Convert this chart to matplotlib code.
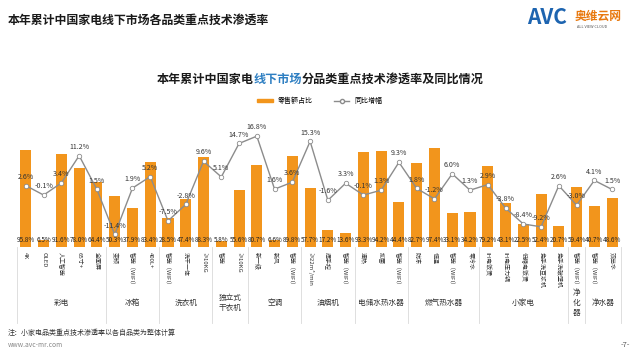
import matplotlib
matplotlib.use("Agg")
import matplotlib.pyplot as plt
from matplotlib.lines import Line2D
from matplotlib.patches import Patch
import matplotlib.transforms as mtransforms

plt.rcParams['font.family'] = ['Noto Sans CJK SC', 'DejaVu Sans']

# groups and their technologies
groups = ['彩电', '冰箱', '洗衣机', '独立式\n干衣机', '空调', '油烟机',
          '电储水热水器', '燃气热水器', '小家电', '净\n化\n器', '净水器']
group_sizes = [5, 3, 3, 2, 3, 3, 3, 4, 5, 1, 2]
techs = ['4K', 'OLED', '人工智能', '65寸+', '全面屏',
         '变频', '智能（WIFI）', '400L+',
         '智能（WIFI）', '洗干一体', '≥10KG',
         '智能', '≥10KG',
         '新一级', '新风', '智能（WIFI）',
         '≥22m³/min', '挥手控', '智能（WIFI）',
         '速热', '抑菌', '智能（WIFI）',
         '防冻', '恒温', '智能（WIFI）', '零冷水',
         'IH电饭煲', 'IH电压力锅', '低糖电饭煲', '免手洗豆浆机', '免手洗破壁机',
         '智能（WIFI）',
         '智能（WIFI）', '双出水']
share = [95.8, 6.5, 91.6, 78.0, 64.4,
         50.3, 37.9, 83.4,
         28.5, 47.4, 88.3,
         5.8, 55.6,
         80.7, 6.6, 89.8,
         57.7, 17.2, 13.6,
         93.3, 94.2, 44.4,
         82.7, 97.4, 33.1, 34.2,
         79.2, 43.1, 22.5, 52.4, 20.7,
         59.4,
         40.7, 48.6]
growth = [2.6, -0.1, 3.4, 11.2, 1.5,
          -11.4, 1.9, 5.2,
          -7.5, -2.8, 9.6,
          5.1, 14.7,
          16.8, 1.6, 3.6,
          15.3, -1.6, 3.3,
          -0.1, 1.3, 9.3,
          1.8, -1.2, 6.0, 1.3,
          2.9, -3.8, -8.4, -9.2, 2.6,
          -3.0,
          4.1, 1.5]

orange = '#f2951c'
grey_line = '#8c8c8c'

fig = plt.figure(figsize=(6.4, 3.6), dpi=100)
W, H = 640, 360

# page title and logo
fig.text(8 / W, 1 - 20 / H, '本年累计中国家电线下市场各品类重点技术渗透率',
         fontsize=8.6, fontweight='bold', va='center', color='#1a1a1a')
fig.text(527 / W, 1 - 18 / H, 'AVC', fontsize=15, fontweight='bold', style='italic',
         color='#1d64b0', va='center')
fig.text(575 / W, 1 - 16 / H, '奥维云网', fontsize=8.5, fontweight='bold',
         color='#e8780e', va='center')
fig.text(577 / W, 1 - 27 / H, 'ALL VIEW CLOUD', fontsize=2.8, color='#555555', va='center')

# chart title with the blue part
parts = [('本年累计中国家电', '#1a1a1a'), ('线下市场', '#2e7fc2'),
         ('分品类重点技术渗透率及同比情况', '#1a1a1a')]
renderer = fig.canvas.get_renderer()
widths = []
for s, c in parts:
    t = fig.text(0, 0, s, fontsize=8.7, fontweight='bold')
    widths.append(t.get_window_extent(renderer).width)
    t.remove()
x0 = (W - sum(widths)) / 2
for (s, c), w in zip(parts, widths):
    fig.text(x0 / W, 1 - 79 / H, s, fontsize=8.7, fontweight='bold', color=c, va='center')
    x0 += w

# main axes
ax = fig.add_axes([17 / W, 1 - 247 / H, 604 / W, 122 / H])
x = list(range(len(share)))
ax.bar(x, share, width=0.62, color=orange, zorder=2)
ax.set_ylim(0, 120)
ax.set_xlim(-0.5, len(share) - 0.5)
for s in ax.spines.values():
    s.set_visible(False)
ax.set_xticks([])
ax.set_yticks([])

for xi, v in zip(x, share):
    ax.text(xi, 6.5, f'{v:.1f}%', fontsize=4.6, ha='center', va='center', color='#222222', zorder=4)

ax2 = ax.twinx()
ax2.set_ylim(-15, 20)
for s in ax2.spines.values():
    s.set_visible(False)
ax2.set_yticks([])
ax2.plot(x, growth, color=grey_line, lw=1.0, marker='o', ms=3.2,
         mfc='white', mec=grey_line, mew=0.6, zorder=3)
for xi, v in zip(x, growth):
    ax2.annotate(f'{v:.1f}%', (xi, v), xytext=(0, 3.5), textcoords='offset points',
                 ha='center', va='bottom', fontsize=5.1, color='#333333')

# category labels, group labels and separators
trans = mtransforms.blended_transform_factory(ax.transData, ax.transAxes)
for xi, name in zip(x, techs):
    ax.text(xi, -0.04, name, rotation=-90, fontsize=4.3, ha='center', va='top',
            color='#333333', transform=trans)

bounds = [-0.5]
for n in group_sizes:
    bounds.append(bounds[-1] + n)
for b in bounds:
    ax.plot([b, b], [0, -0.62], color='#d9d9d9', lw=0.6, transform=trans, clip_on=False)
for g, a, b in zip(groups, bounds[:-1], bounds[1:]):
    ax.text((a + b) / 2, -0.46, g, fontsize=5.5, ha='center', va='center',
            color='#333333', transform=trans, linespacing=1.3)

# legend
handles = [Patch(color=orange, label='零售额占比'),
           Line2D([0], [0], color=grey_line, lw=1, marker='o', ms=3, mfc='white',
                  mec=grey_line, label='同比增幅')]
fig.legend(handles=handles, loc='center', bbox_to_anchor=(0.5, 1 - 101 / H), ncol=2,
           frameon=False, fontsize=5, handlelength=2.2, handleheight=0.4, columnspacing=3)

# footer
fig.text(8 / W, 1 - 333 / H, '注：小家电品类重点技术渗透率以各自品类为整体计算',
         fontsize=5, color='#333333', va='center')
fig.text(8 / W, 1 - 345 / H, 'www.avc-mr.com', fontsize=4.8, color='#888888', va='center')
fig.text(625 / W, 1 - 345 / H, '-7-', fontsize=5.5, color='#555555', va='center', ha='center')

fig.savefig('out.png', dpi=100)
